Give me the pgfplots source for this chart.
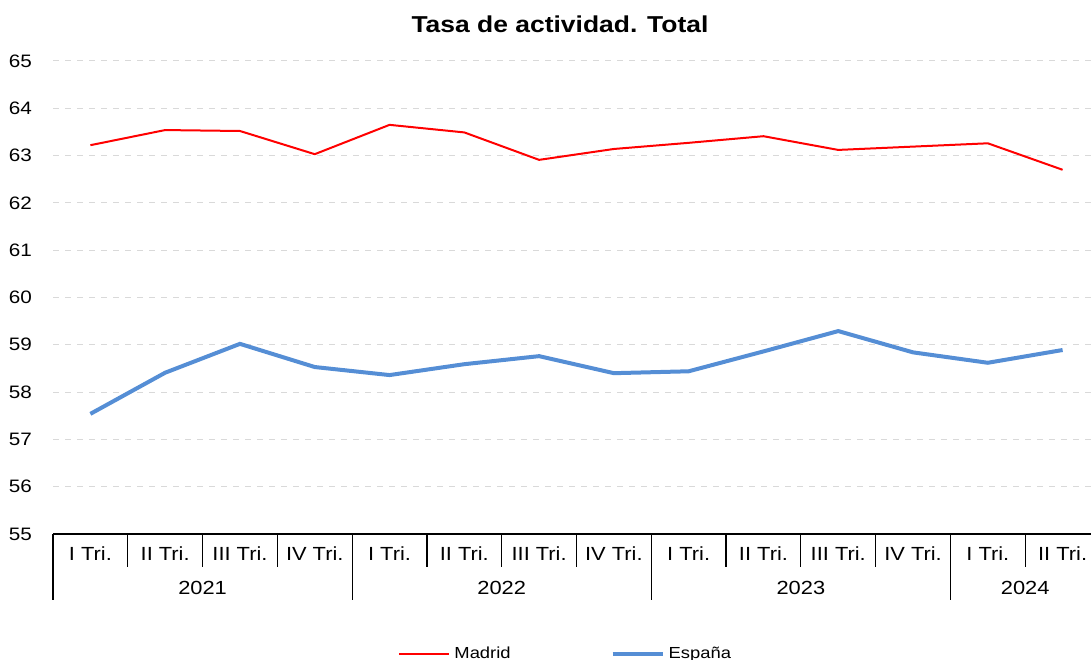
\documentclass[border=0pt]{standalone}
\usepackage{pgfplots}
\pgfplotsset{compat=1.18}
\usepackage{fontspec}
\setmainfont{Liberation Sans}[FakeStretch=1.15]
\definecolor{madrid}{RGB}{255,0,0}
\definecolor{espana}{RGB}{85,142,213}
\begin{document}
\begin{tikzpicture}
\useasboundingbox (0,0) rectangle (545.5pt,329.5pt);
\begin{axis}[
  at={(26.5pt,62.5pt)}, anchor=south west,
  scale only axis, width=523.5pt, height=236.5pt,
  xmin=-0.5, xmax=13.5, ymin=55, ymax=65,
  ytick={55,56,...,65},
  xtick={0,...,13},
  xticklabels={I Tri.,II Tri.,III Tri.,IV Tri.,I Tri.,II Tri.,III Tri.,IV Tri.,I Tri.,II Tri.,III Tri.,IV Tri.,I Tri.,II Tri.},
  axis x line*=bottom, axis y line*=left,
  y axis line style={draw=none},
  x axis line style={black, line width=0.6pt},
  major tick length=0pt,
  ymajorgrids, grid style={dashed, color=black!15, line width=0.5pt},
  /pgf/number format/assume math mode=true,
  yticklabel style={font=\fontsize{9}{10}\selectfont, anchor=east, xshift=-7pt},
  xticklabel style={font=\fontsize{9.5}{10}\selectfont, anchor=center, yshift=-10pt},
  clip=false,
  title={\bfseries Tasa de actividad. Total},
  title style={font=\fontsize{11.5}{13}\selectfont, at={(0.4842,1.0528)}, anchor=center},
  legend columns=2,
  legend style={at={(0.3238,-0.2537)}, anchor=west, draw=none, fill=none,
    font=\fontsize{8}{9}\selectfont,
    /tikz/every even column/.append style={column sep=48pt}},
  legend image code/.code={\draw[#1] (0pt,0pt) -- (25pt,0pt);},
]
\addplot[madrid, line width=1pt] coordinates {
 (0,63.22) (1,63.54) (2,63.52) (3,63.03) (4,63.65) (5,63.49) (6,62.91)
 (7,63.14) (8,63.27) (9,63.41) (10,63.12) (11,63.19) (12,63.26) (13,62.70)};
\addlegendentry{Madrid}
\addplot[espana, line width=2pt] coordinates {
 (0,57.54) (1,58.41) (2,59.02) (3,58.53) (4,58.36) (5,58.59) (6,58.76)
 (7,58.40) (8,58.44) (9,58.86) (10,59.29) (11,58.84) (12,58.62) (13,58.89)};
\addlegendentry{España}
% separators
\pgfplotsinvokeforeach{0.5,1.5,2.5,4.5,5.5,6.5,8.5,9.5,10.5,12.5}{
  \draw[black, line width=0.6pt] (axis cs:#1,55) -- ++(0pt,-16.5pt);
}
\pgfplotsinvokeforeach{-0.5,3.5,7.5,11.5,13.5}{
  \draw[black, line width=0.6pt] (axis cs:#1,55) -- ++(0pt,-33pt);
}
\node[font=\fontsize{9.5}{10}\selectfont, anchor=center] at ([yshift=-27pt]axis cs:1.5,55) {2021};
\node[font=\fontsize{9.5}{10}\selectfont, anchor=center] at ([yshift=-27pt]axis cs:5.5,55) {2022};
\node[font=\fontsize{9.5}{10}\selectfont, anchor=center] at ([yshift=-27pt]axis cs:9.5,55) {2023};
\node[font=\fontsize{9.5}{10}\selectfont, anchor=center] at ([yshift=-27pt]axis cs:12.5,55) {2024};
\end{axis}
\end{tikzpicture}
\end{document}
